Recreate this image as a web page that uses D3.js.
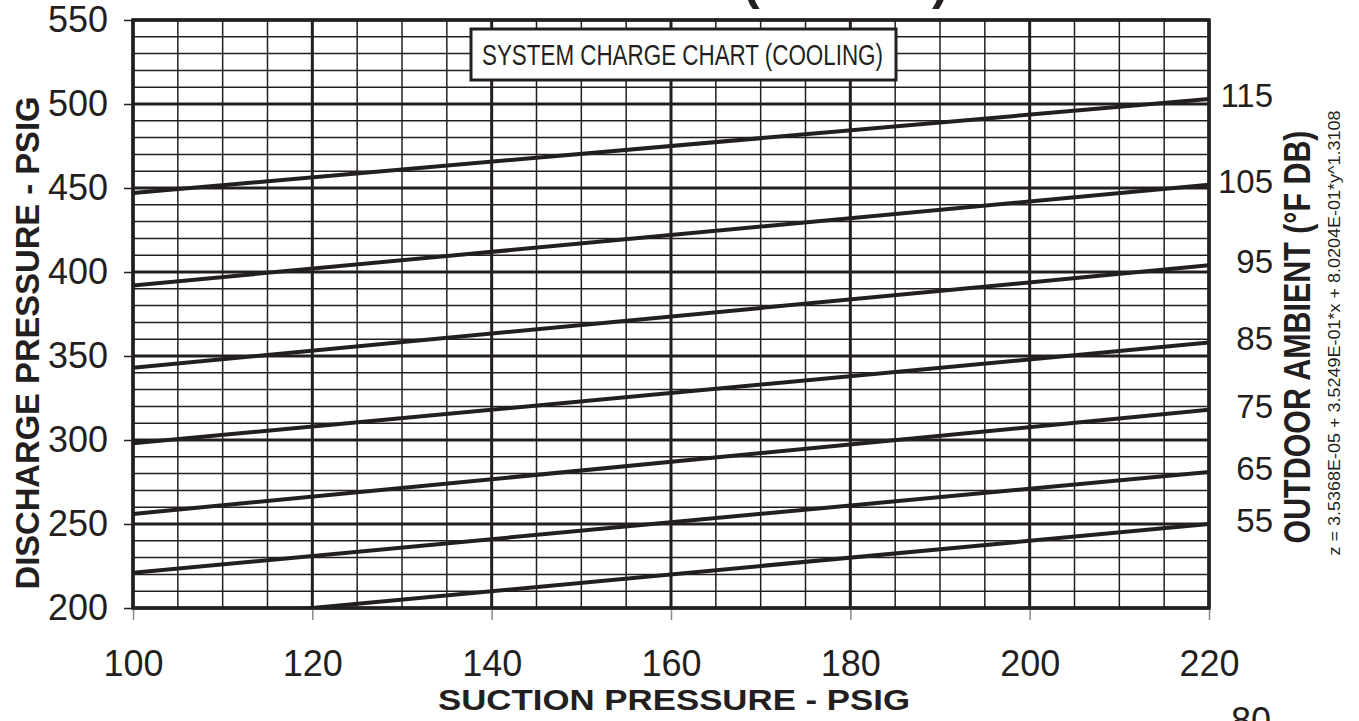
<!DOCTYPE html>
<html>
<head>
<meta charset="utf-8">
<script src="https://cdn.jsdelivr.net/npm/d3@7"></script>
<style>
  html, body { margin: 0; padding: 0; background: #fff; overflow: hidden; }
  svg { display: block; font-family: "Liberation Sans", Arial, Helvetica, sans-serif; }
</style>
</head>
<body>
<svg id="chart" width="1359" height="721"></svg>
<script>
// ---- data ----
const suctionTicks = [100, 120, 140, 160, 180, 200, 220];
const dischargeTicks = [200, 250, 300, 350, 400, 450, 500, 550];
const suctionEnds = [100, 220];
const ambientLabels = ["115", "105", "95", "85", "75", "65", "55"];
const dischargeAt100 = [447, 392, 343, 298, 256, 221, 190];
const dischargeAt220 = [503, 452, 404, 358, 318, 281, 250];
const chartTitle = "(R-410A)";
const boxTitle = "SYSTEM CHARGE CHART (COOLING)";
const xTitle = "SUCTION PRESSURE - PSIG";
const yTitle = "DISCHARGE PRESSURE - PSIG";
const rightTitle = "OUTDOOR AMBIENT (°F DB)";
const formula = "z = 3.5368E-05 + 3.5249E-01*x + 8.0204E-01*y^1.3108";
const pageNumber = "80";

// ---- layout ----
const ink = "#231f20";
const L = 133, R = 1209, T = 20, B = 608;
const svg = d3.select("#chart");
const x = d3.scaleLinear().domain([100, 220]).range([L, R]);
const y = d3.scaleLinear().domain([200, 550]).range([B, T]);

// clip
svg.append("defs").append("clipPath").attr("id", "plotclip")
  .append("rect").attr("x", L).attr("y", T).attr("width", R - L).attr("height", B - T);

// grid
const g = svg.append("g");
d3.range(100, 221, 5).forEach(v => {
  g.append("line").attr("x1", x(v)).attr("x2", x(v)).attr("y1", T).attr("y2", B)
    .attr("stroke", ink).attr("stroke-width", v % 20 === 0 ? 3 : 1.5);
});
d3.range(200, 551, 10).forEach(v => {
  g.append("line").attr("x1", L).attr("x2", R).attr("y1", y(v)).attr("y2", y(v))
    .attr("stroke", ink).attr("stroke-width", v % 50 === 0 ? 3 : 1.5);
});

// axis ticks
const yAxis = d3.axisLeft(y).tickValues(dischargeTicks).tickSize(9).tickFormat(d => d).tickPadding(16);
const yg = svg.append("g").attr("transform", `translate(${L},0)`).call(yAxis);
yg.select(".domain").remove();
yg.selectAll(".tick line").attr("stroke", ink).attr("stroke-width", 1.5);
yg.selectAll(".tick text").attr("font-size", 36).attr("fill", ink)
  .attr("font-family", "Liberation Sans, Arial, sans-serif");

const xAxis = d3.axisBottom(x).tickValues(suctionTicks).tickSize(12).tickFormat(d => d).tickPadding(30);
const xg = svg.append("g").attr("transform", `translate(0,${B})`).call(xAxis);
xg.select(".domain").remove();
xg.selectAll(".tick line").attr("stroke", "#8a8a8a").attr("stroke-width", 1.5);
xg.selectAll(".tick text").attr("font-size", 36).attr("fill", ink)
  .attr("font-family", "Liberation Sans, Arial, sans-serif");

// data lines
const line = d3.line().x(d => x(d[0])).y(d => y(d[1]));
const lg = svg.append("g").attr("clip-path", "url(#plotclip)");
ambientLabels.forEach((lab, i) => {
  const pts = [[suctionEnds[0], dischargeAt100[i]], [suctionEnds[1], dischargeAt220[i]]];
  lg.append("path").attr("d", line(pts)).attr("fill", "none")
    .attr("stroke", ink).attr("stroke-width", 4);
});

// frame
svg.append("rect").attr("x", L).attr("y", T).attr("width", R - L).attr("height", B - T)
  .attr("fill", "none").attr("stroke", ink).attr("stroke-width", 3.5);

// right labels
ambientLabels.forEach((lab, i) => {
  svg.append("text").attr("x", R + 64).attr("y", y(dischargeAt220[i]) - 4)
    .attr("dy", "0.36em").attr("text-anchor", "end")
    .attr("font-size", 33).attr("fill", ink).text(lab);
});

// box title
svg.append("rect").attr("x", 471).attr("y", 29).attr("width", 425).attr("height", 51)
  .attr("fill", "#fff").attr("stroke", ink).attr("stroke-width", 3);
svg.append("text").attr("x", 482).attr("y", 65).attr("font-size", 30)
  .attr("textLength", 401).attr("lengthAdjust", "spacingAndGlyphs")
  .attr("fill", ink).text(boxTitle);

// axis titles
svg.append("text").attr("x", 438).attr("y", 710).attr("font-size", 29).attr("font-weight", "bold")
  .attr("textLength", 472).attr("lengthAdjust", "spacingAndGlyphs")
  .attr("fill", ink).text(xTitle);

svg.append("text").attr("transform", "translate(39,343) rotate(-90)")
  .attr("text-anchor", "middle").attr("font-size", 34).attr("font-weight", "bold")
  .attr("textLength", 493).attr("lengthAdjust", "spacingAndGlyphs")
  .attr("fill", ink).text(yTitle);

svg.append("text").attr("transform", "translate(1310,337) rotate(-90)")
  .attr("text-anchor", "middle").attr("font-size", 36).attr("font-weight", "bold")
  .attr("textLength", 413).attr("lengthAdjust", "spacingAndGlyphs")
  .attr("fill", ink).text(rightTitle);

svg.append("text").attr("transform", "translate(1340,333) rotate(-90)")
  .attr("text-anchor", "middle").attr("font-size", 16)
  .attr("textLength", 445).attr("lengthAdjust", "spacingAndGlyphs")
  .attr("fill", ink).text(formula);

// partially visible header and page number
svg.append("text").attr("x", 743).attr("y", -1.5).attr("font-size", 50).attr("font-weight", "bold")
  .attr("fill", ink).text(chartTitle);
svg.append("text").attr("x", 1231).attr("y", 733).attr("font-size", 36)
  .attr("fill", ink).text(pageNumber);
</script>
</body>
</html>
